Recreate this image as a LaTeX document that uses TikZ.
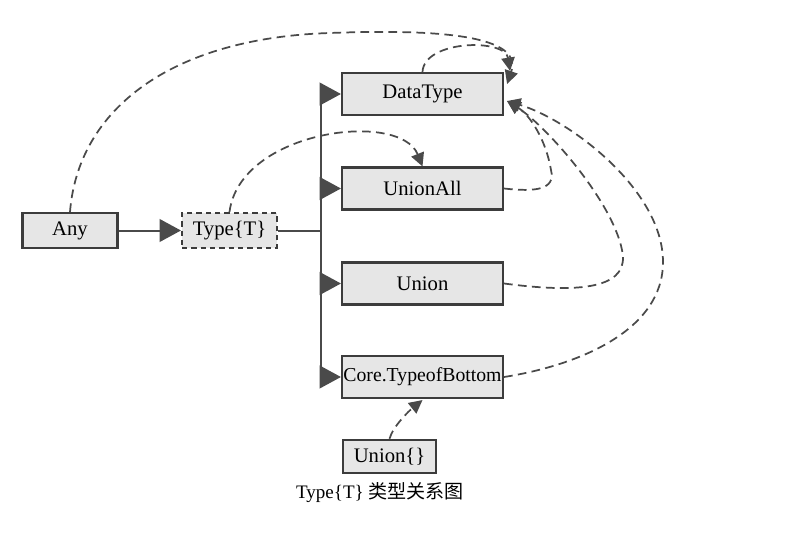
\documentclass[tikz,border=0pt]{standalone}
\usepackage{fontspec}
\setmainfont{Liberation Serif}
\newfontfamily\cjk{Noto Sans CJK SC}
\usetikzlibrary{arrows.meta,calc}
\definecolor{boxfill}{HTML}{E6E6E6}
\definecolor{boxline}{HTML}{3C3C3C}
\definecolor{lineclr}{HTML}{4A4A4A}
\begin{document}
\begin{tikzpicture}[x=0.75pt,y=-0.75pt,
  box/.style={draw=boxline, fill=boxfill, line width=1.6pt, inner sep=0pt,
    font=\fontsize{15.5}{18}\selectfont},
  widebox/.style={box, minimum width=120.75pt, minimum height=31.5pt},
  smallbox/.style={box, minimum width=71.25pt, minimum height=26.25pt},
  dashbox/.style={smallbox, dash pattern=on 4pt off 3pt},
  plainline/.style={draw=lineclr, line width=1.5pt},
  solidarrow/.style={plainline, -{Triangle[length=16pt,width=17pt]}},
  dashedge/.style={draw=lineclr, line width=1.3pt, dash pattern=on 6.5pt off 4pt,
    -{Triangle[length=10pt,width=10pt]}},
]
\useasboundingbox (0,0) rectangle (792,542);

% nodes
\node[smallbox] (any) at (70,230.5) {Any};
\node[dashbox] (typet) at (229.5,230.5) {Type\{T\}};
\node[widebox] (datatype) at (422.5,94) {DataType};
\node[widebox] (unionall) at (422.5,188.5) {UnionAll};
\node[widebox] (union) at (422.5,283.5) {Union};
\node[widebox, font=\fontsize{14.8}{18}\selectfont] (core) at (422.5,377) {Core.TypeofBottom};
\node[box, minimum width=70pt, minimum height=25pt] (unionempty) at (389.5,456.5) {Union\{\}};
\node[font=\fontsize{14.3}{18}\selectfont] (caption) at (380,493) {Type\{T\} {\cjk 类型关系图}};

% solid tree
\coordinate (bus) at (321,230.5);
\draw[solidarrow] (any) -- (typet);
\draw[plainline] (typet.east) -- (bus);
\draw[plainline] (bus |- datatype.west) -- (bus |- core.west);
\draw[solidarrow] (bus |- datatype.west) -- (datatype.west);
\draw[solidarrow] (bus |- unionall.west) -- (unionall.west);
\draw[solidarrow] (bus |- union.west) -- (union.west);
\draw[solidarrow] (bus |- core.west) -- (core.west);

% tips near DataType
\coordinate (tipTop) at ([shift={(6,-1)}]datatype.north east);
\coordinate (tipMid) at ([shift={(3,-10)}]datatype.east);
\coordinate (tipLow) at ([shift={(3,7)}]datatype.east);

% dashed edges
\draw[dashedge] (any.north) .. controls (78,110) and (170,38) .. (330,33)
  .. controls (460,28) and (522,40) .. (tipMid);
\draw[dashedge] (datatype.north) .. controls (424,40) and (505,38) .. (tipTop);
\draw[dashedge] (typet.north) .. controls (240,130) and (400,110) .. (unionall.north);
\draw[dashedge] (unionall.east) .. controls (535,192) and (556,190) .. (551,170)
  .. controls (546,140) and (530,115) .. (tipLow);
\draw[dashedge] (union.east) .. controls (590,295) and (630,285) .. (622,250)
  .. controls (612,200) and (545,125) .. (tipLow);
\draw[dashedge] (core.east) .. controls (580,365) and (663,330) .. (663,262)
  .. controls (663,190) and (570,120) .. (tipLow);
\draw[dashedge] (unionempty.north) .. controls (393,426) and (410,410) .. ([shift={(0,1)}]core.south);
\end{tikzpicture}
\end{document}
